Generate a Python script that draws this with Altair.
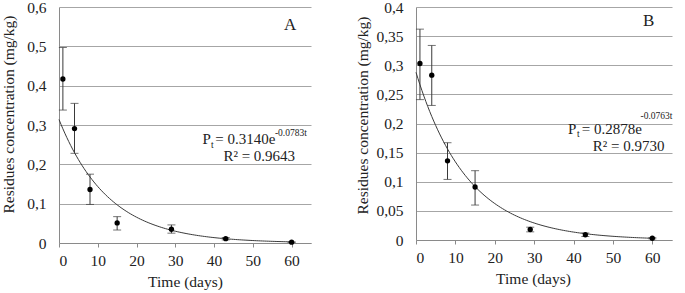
import altair as alt
import numpy as np
import pandas as pd

# ---------------- data ----------------
days = [1, 4, 8, 15, 29, 43, 60]

a_mean = [0.417, 0.291, 0.136, 0.051, 0.035, 0.011, 0.002]
a_low = [0.338, 0.228, 0.098, 0.033, 0.025, 0.008, 0.001]
a_high = [0.497, 0.355, 0.175, 0.067, 0.046, 0.014, 0.003]

b_mean = [0.303, 0.283, 0.136, 0.091, 0.018, 0.009, 0.003]
b_low = [0.241, 0.231, 0.104, 0.060, 0.014, 0.006, 0.002]
b_high = [0.362, 0.334, 0.167, 0.119, 0.022, 0.012, 0.004]

# fitted models printed on the chart: Pt = P0 * exp(k t)
a_fit = [0.3140, -0.0783]
b_fit = [0.2878, -0.0763]
fit_days = list(np.linspace(0, 60, 121))

x_ticks = [0, 10, 20, 30, 40, 50, 60]
a_y_ticks = [0, 0.1, 0.2, 0.3, 0.4, 0.5, 0.6]
b_y_ticks = [0, 0.05, 0.1, 0.15, 0.2, 0.25, 0.3, 0.35, 0.4]

a_eq_main = ["P", "= 0.3140e", "R² = 0.9643"]
a_eq_small = ["t", "-0.0783t"]
b_eq_main = ["P", "= 0.2878e", "R² = 0.9730"]
b_eq_small = ["t", "-0.0763t"]

FONT = "'Liberation Serif', 'Times New Roman', Times, 'DejaVu Serif', serif"
DARK = "#3a3a3a"
GRID = "#a6a6a6"
AXIS = "#8a8a8a"
TXT = "#222222"


def panel(mean, low, high, fit, y_ticks, y_max, letter, eq_main, eq_small,
          main_pos, small_pos, letter_pos, width, height, title_pad, x_title_x, y_title_y):
    pts = pd.DataFrame({"t": days, "m": mean, "lo": low, "hi": high})
    curve = pd.DataFrame({"t": fit_days,
                          "v": [fit[0] * np.exp(fit[1] * t) for t in fit_days]})

    xsc = alt.Scale(domain=[0, 65], nice=False, zero=True)
    ysc = alt.Scale(domain=[0, y_max], nice=False)

    xax = alt.Axis(values=x_ticks, grid=False, title="Time (days)",
                   domainColor=AXIS, tickColor=AXIS, tickSize=4,
                   labelFont=FONT, titleFont=FONT, labelFontSize=15.5, titleFontSize=15.5,
                   labelColor=TXT, titleColor=TXT, titleFontWeight="normal",
                   labelPadding=6, titlePadding=6, titleX=x_title_x)
    yax = alt.Axis(values=y_ticks, grid=True, gridColor=GRID, ticks=False,
                   domainColor=AXIS, labelPadding=13, titlePadding=title_pad,
                   labelFont=FONT, titleFont=FONT, labelFontSize=15.5, titleFontSize=15.5,
                   labelColor=TXT, titleColor=TXT, titleFontWeight="normal",
                   labelOverlap=False,
                   title="Residues concentration (mg/kg)", titleY=y_title_y,
                   labelExpr="replace(format(datum.value, '.6~g'), '.', ',')")

    def X(f):
        return alt.X(f, type="quantitative", scale=xsc, axis=xax)

    def Y(f):
        return alt.Y(f, type="quantitative", scale=ysc, axis=yax)

    line = alt.Chart(curve).mark_line(color=DARK, strokeWidth=1).encode(
        x=X("t"), y=Y("v"))
    rule = alt.Chart(pts).mark_rule(color=DARK, strokeWidth=1).encode(
        x=X("t"), y=Y("lo"), y2="hi:Q")
    cap_lo = alt.Chart(pts).mark_tick(orient="horizontal", color=DARK, size=8,
                                      thickness=1).encode(x=X("t"), y=Y("lo"))
    cap_hi = alt.Chart(pts).mark_tick(orient="horizontal", color=DARK, size=8,
                                      thickness=1).encode(x=X("t"), y=Y("hi"))
    dots = alt.Chart(pts).mark_circle(color="black", opacity=1, size=28).encode(
        x=X("t"), y=Y("m"))

    main_df = pd.DataFrame({"s": eq_main, "x": [p[0] for p in main_pos],
                            "y": [p[1] for p in main_pos]})
    small_df = pd.DataFrame({"s": eq_small, "x": [p[0] for p in small_pos],
                             "y": [p[1] for p in small_pos]})
    letter_df = pd.DataFrame({"s": [letter], "x": [letter_pos[0]], "y": [letter_pos[1]]})

    t_main = alt.Chart(main_df).mark_text(font=FONT, fontSize=15, align="left",
                                          baseline="alphabetic", color=TXT).encode(
        x=X("x"), y=Y("y"), text="s:N")
    t_small = alt.Chart(small_df).mark_text(font=FONT, fontSize=9.5, align="left",
                                            baseline="alphabetic", color=TXT).encode(
        x=X("x"), y=Y("y"), text="s:N")
    t_letter = alt.Chart(letter_df).mark_text(font=FONT, fontSize=17, align="center",
                                              baseline="middle", color=TXT).encode(
        x=X("x"), y=Y("y"), text="s:N")

    return alt.layer(line, rule, cap_lo, cap_hi, dots, t_main, t_small, t_letter).properties(
        width=width, height=height)


chart_a = panel(a_mean, a_low, a_high, a_fit, a_y_ticks, 0.6, "A", a_eq_main, a_eq_small,
                main_pos=[(37.0, 0.2516), (40.3, 0.2516), (42.4, 0.2076)],
                small_pos=[(39.2, 0.2423), (55.7, 0.2727)],
                letter_pos=(59.6, 0.555),
                width=252, height=236, title_pad=10, x_title_x=126, y_title_y=107)

chart_b = panel(b_mean, b_low, b_high, b_fit, b_y_ticks, 0.4, "B", b_eq_main, b_eq_small,
                main_pos=[(38.6, 0.1828), (42.1, 0.1828), (44.9, 0.1522)],
                small_pos=[(40.9, 0.1767), (57.0, 0.2070)],
                letter_pos=(59.1, 0.376),
                width=256, height=233, title_pad=5, x_title_x=117, y_title_y=108)

chart = alt.hconcat(chart_a, chart_b, spacing=44).properties(
    padding={"left": 1, "top": 0, "right": 0, "bottom": 0}
).configure(font=FONT).configure_view(stroke=None).configure_axis(
    labelFont=FONT, titleFont=FONT, labelFontSize=15.5, titleFontSize=15.5,
    titleFontWeight="normal"
).configure_text(font=FONT)

chart.save("out.html", embed_options={"renderer": "svg", "actions": False})
